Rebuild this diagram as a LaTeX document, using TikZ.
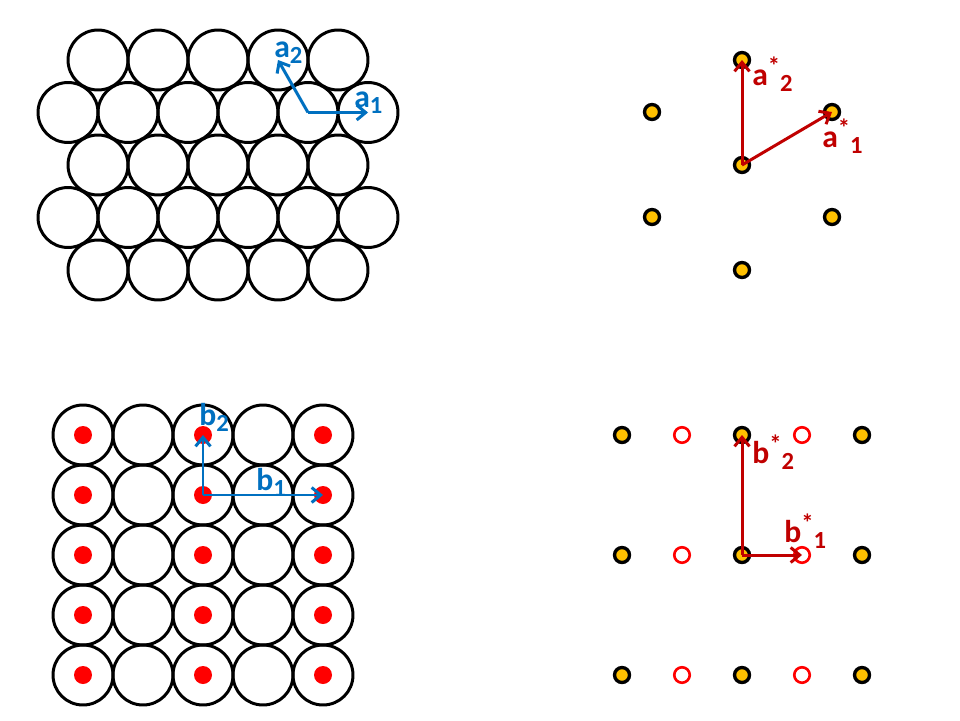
\documentclass[tikz,border=0pt]{standalone}
\usepackage{fontspec}
\setmainfont{Carlito}
\usetikzlibrary{arrows.meta}
\definecolor{vecblue}{RGB}{0,112,192}
\definecolor{vecred}{RGB}{192,0,0}
\definecolor{gold}{RGB}{255,192,0}
\newcommand\dn[1]{\raisebox{-3.5pt}{\fontsize{14}{15}\selectfont#1}}
\newcommand\up{\raisebox{6pt}{\fontsize{14}{15}\selectfont*}}
\newcommand\recip[2]{#1\up\dn{#2}}
\tikzset{
  atom/.style={circle, draw, line width=1.7pt, inner sep=0pt, minimum size=1.2cm},
  site/.style={circle, draw, fill=gold, line width=1.9pt, inner sep=0pt, minimum size=0.3cm},
  hole/.style={circle, draw=red, fill=white, line width=1.5pt, inner sep=0pt, minimum size=0.31cm},
  redspot/.style={circle, fill=red, inner sep=0pt, minimum size=0.36cm},
  realvec/.style={draw=vecblue, line width=1.7pt, -{Straight Barb[length=0.18cm,width=0.3cm]}},
  recvec/.style={draw=vecred, line width=1.7pt, -{Straight Barb[length=0.18cm,width=0.3cm]}},
  lbl/.style={font=\fontsize{18}{21}\selectfont\bfseries, anchor=base west, inner sep=0pt}
}
\begin{document}
\begin{tikzpicture}[x=0.02cm, y=-0.02cm]
\useasboundingbox (0,0) rectangle (960,720);
% close-packed layer:
\foreach \j in {1,...,5}{
  \pgfmathsetmacro\yy{60+(\j-1)*52.5}
  \ifodd\j
    \foreach \i in {1,...,5} \node[atom] (h-\j-\i) at ({98+60*(\i-1)},\yy) {};
  \else
    \foreach \i in {1,...,6} \node[atom] (h-\j-\i) at ({68+60*(\i-1)},\yy) {};
  \fi
}
\draw[realvec] (h-2-5.center) -- (h-2-6.center);
\draw[realvec] (h-2-5.center) -- (h-1-4.center);
\node[lbl, text=vecblue] (a1) at (354,107) {a\dn{1}};
\node[lbl, text=vecblue] (a2) at (274,57) {a\dn{2}};
% hexagonal reciprocal net:
\node[site] (s0) at (742,165) {};
\node[site] (s1) at (832,112) {};
\node[site] (s2) at (742,60) {};
\node[site] (s3) at (652,112) {};
\node[site] (s4) at (652,217) {};
\node[site] (s5) at (832,217) {};
\node[site] (s6) at (742,270) {};
\draw[recvec] (s0.center) -- (s1.center);
\draw[recvec] (s0.center) -- (s2.center);
\node[lbl, text=vecred] (as1) at (822,147) {\recip{a}{1}};
\node[lbl, text=vecred] (as2) at (752,85) {\recip{a}{2}};
% square layer:
\foreach \j in {1,...,5}
  \foreach \i in {1,...,5} \node[atom] (q-\j-\i) at ({83+60*(\i-1)},{435+60*(\j-1)}) {};
\foreach \j in {1,...,5}
  \foreach \i in {1,3,5} \node[redspot] (m-\j-\i) at (q-\j-\i) {};
\draw[realvec] (q-2-3.center) -- (q-2-5.center);
\draw[realvec] (q-2-3.center) -- (q-1-3.center);
\node[lbl, text=vecblue] (b1) at (256,490) {b\dn{1}};
\node[lbl, text=vecblue] (b2) at (199,425) {b\dn{2}};
% rectangular reciprocal net:
\foreach \j in {1,2,3}
  \foreach \i in {1,...,5}{
    \ifodd\i
      \node[site] (k-\j-\i) at ({622+60*(\i-1)},{435+120*(\j-1)}) {};
    \else
      \node[hole] (k-\j-\i) at ({622+60*(\i-1)},{435+120*(\j-1)}) {};
    \fi
  }
\draw[recvec] (k-2-3.center) -- (k-2-4.center);
\draw[recvec] (k-2-3.center) -- (k-1-3.center);
\node[lbl, text=vecred] (bs1) at (784,542) {\recip{b}{1}};
\node[lbl, text=vecred] (bs2) at (752,463) {\recip{b}{2}};
\end{tikzpicture}
\end{document}
